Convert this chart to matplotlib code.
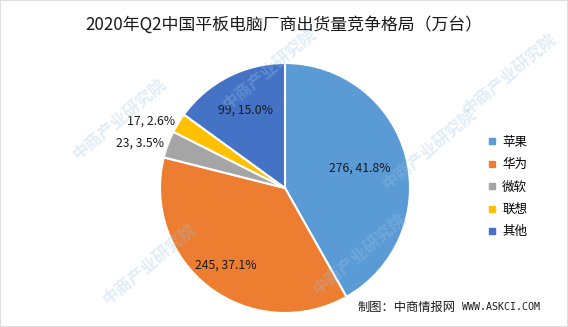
import numpy as np
import matplotlib.pyplot as plt
from matplotlib.patches import Rectangle

plt.rcParams['font.family'] = ['Noto Sans CJK SC', 'DejaVu Sans']

# data
brands = ["苹果", "华为", "微软", "联想", "其他"]
shipments = [276, 245, 23, 17, 99]
shares = [41.8, 37.1, 3.5, 2.6, 15.0]
colors = ["#5B9BD5", "#ED7D31", "#A5A5A5", "#FFC000", "#4472C4"]

W, H = 568, 327
fig = plt.figure(figsize=(W / 100, H / 100), dpi=100)

# light frame around the picture
fig.patches.append(Rectangle((0, 0), 1, 1, transform=fig.transFigure,
                             fill=False, edgecolor="#d9d9d9", linewidth=1.2))

fig.text(0.5, 1 - 25 / H, "2020年Q2中国平板电脑厂商出货量竞争格局（万台）",
         ha="center", va="center", fontsize=12.2, color="#1a1a1a")

# pie axes: centre (285,188) px, radius 125 px
cx, cy, r = 285, 188, 125
ax = fig.add_axes([(cx - r) / W, (H - cy - r) / H, 2 * r / W, 2 * r / H])
wedges, _ = ax.pie(shipments, colors=colors, startangle=90, counterclock=False,
                   radius=1, wedgeprops=dict(edgecolor="white", linewidth=1.5))
ax.set_xlim(-1, 1)
ax.set_ylim(-1, 1)
ax.set_aspect("auto")
ax.axis("off")

# data labels
label_r = [0.62, 0.78, 1.03, 1.03, 0.7]
outside = [False, False, True, True, False]
for w, n, s, lr, out in zip(wedges, shipments, shares, label_r, outside):
    mid = np.deg2rad((w.theta1 + w.theta2) / 2)
    x, y = lr * np.cos(mid), lr * np.sin(mid)
    ax.text(x, y, f"{n}, {s:.1f}%", ha="right" if out else "center",
            va="center", fontsize=8.8, color="#1a1a1a", zorder=5)

# legend
handles = [plt.Line2D([], [], marker="s", linestyle="", markersize=4,
                      markerfacecolor=c, markeredgecolor=c) for c in colors]
fig.legend(handles, brands, loc="center left",
           bbox_to_anchor=(476 / W, 1 - 187 / H), frameon=False,
           fontsize=9, handletextpad=0.4, labelspacing=0.75,
           handlelength=0.8)

# footer
fig.text(358 / W, 1 - 307 / H, "制图：中商情报网", ha="left", va="center",
         fontsize=8.8, color="#1a1a1a")
fig.text(462 / W, 1 - 307 / H, "WWW.ASKCI.COM", ha="left", va="center",
         fontsize=7.2, color="#1a1a1a", family="DejaVu Sans Mono")

# watermarks
marks = [(120, 120), (270, 70), (430, 150), (150, 265), (360, 255), (510, 75)]
for px, py in marks:
    fig.text(px / W, 1 - py / H, "中商产业研究院", ha="center", va="center",
             rotation=40, fontsize=12, color="#9cc3e6", alpha=0.3,
             fontweight="bold", zorder=10)

fig.savefig("out.png", dpi=100)
